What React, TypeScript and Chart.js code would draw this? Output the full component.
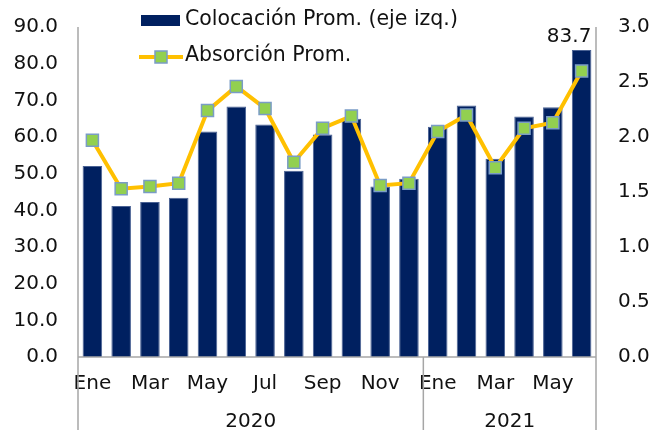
import React, { useEffect, useRef } from "react";
import { Chart, registerables } from "chart.js";

Chart.register(...registerables);

const months = ["Ene","Feb","Mar","Abr","May","Jun","Jul","Ago","Sep","Oct","Nov","Dic","Ene","Feb","Mar","Abr","May","Jun"];
const years = [
  { label: "2020", start: 0, count: 12 },
  { label: "2021", start: 12, count: 6 },
];
const colocacion = [52.1, 41.2, 42.3, 43.4, 61.5, 68.3, 63.4, 50.8, 60.7, 65.0, 46.5, 48.6, 62.8, 68.6, 54.1, 65.6, 68.1, 83.7];
const absorcion = [1.97, 1.53, 1.55, 1.58, 2.24, 2.46, 2.26, 1.77, 2.08, 2.19, 1.56, 1.58, 2.05, 2.20, 1.72, 2.08, 2.13, 2.60];
const leftTicks = { min: 0, max: 90, step: 10 };
const rightTicks = { min: 0, max: 3, step: 0.5 };
const legendLabels = ["Colocación Prom. (eje izq.)", "Absorción Prom."];

const NAVY = "#002060";
const GOLD = "#FFC000";
const GREEN = "#92D050";
const MARKER_BORDER = "#7A9CC6";
const AXIS = "#a6a6a6";
const TEXT = "#111111";
const FONT = "'DejaVu Sans', Verdana, sans-serif";
const FS = 20;
const LFS = 20.5;

const decorPlugin = {
  id: "decor",
  afterDraw(chart: any) {
    const ctx = chart.ctx;
    const area = chart.chartArea;
    const x = chart.scales.x;
    const H = chart.height;
    ctx.save();
    ctx.strokeStyle = AXIS;
    ctx.lineWidth = 1.5;
    ctx.beginPath();
    ctx.moveTo(area.left, area.top);
    ctx.lineTo(area.left, H);
    ctx.moveTo(area.right, area.top);
    ctx.lineTo(area.right, H);
    ctx.moveTo(area.left, area.bottom);
    ctx.lineTo(area.right, area.bottom);
    years.forEach((g, i) => {
      if (i === 0) return;
      const px = (x.getPixelForValue(g.start - 1) + x.getPixelForValue(g.start)) / 2;
      ctx.moveTo(px, area.bottom);
      ctx.lineTo(px, H);
    });
    ctx.stroke();
    ctx.fillStyle = TEXT;
    ctx.font = `${FS}px ${FONT}`;
    ctx.textAlign = "center";
    ctx.textBaseline = "middle";
    years.forEach((g, i) => {
      const l = i === 0 ? area.left : (x.getPixelForValue(g.start - 1) + x.getPixelForValue(g.start)) / 2;
      const last = g.start + g.count - 1;
      const r = i === years.length - 1 ? area.right : (x.getPixelForValue(last) + x.getPixelForValue(last + 1)) / 2;
      ctx.fillText(g.label, (l + r) / 2, 422);
    });
    const meta = chart.getDatasetMeta(0);
    const lastIdx = colocacion.length - 1;
    const el = meta.data[lastIdx];
    if (el) {
      ctx.textAlign = "right";
      ctx.textBaseline = "middle";
      ctx.fillText(colocacion[lastIdx].toFixed(1), el.x + el.width / 2, el.y - 13);
    }
    ctx.fillStyle = NAVY;
    ctx.fillRect(141, 15, 39, 11);
    ctx.strokeStyle = GOLD;
    ctx.lineWidth = 4;
    ctx.beginPath();
    ctx.moveTo(139, 57);
    ctx.lineTo(183, 57);
    ctx.stroke();
    ctx.fillStyle = GREEN;
    ctx.fillRect(155, 51, 12, 12);
    ctx.strokeStyle = MARKER_BORDER;
    ctx.lineWidth = 1.5;
    ctx.strokeRect(155, 51, 12, 12);
    ctx.fillStyle = TEXT;
    ctx.font = `${LFS}px ${FONT}`;
    ctx.textAlign = "left";
    ctx.textBaseline = "middle";
    ctx.fillText(legendLabels[0], 185, 20);
    ctx.fillText(legendLabels[1], 185, 56);
    ctx.restore();
  },
};

export default function App() {
  const ref = useRef<HTMLCanvasElement | null>(null);
  useEffect(() => {
    if (!ref.current) return;
    const chart = new Chart(ref.current, {
      type: "bar",
      data: {
        labels: months,
        datasets: [
          {
            type: "bar",
            label: legendLabels[0],
            data: colocacion,
            backgroundColor: NAVY,
            borderColor: "#4a6294",
            borderWidth: 1,
            yAxisID: "y",
            categoryPercentage: 1,
            barPercentage: 0.68,
            order: 2,
          },
          {
            type: "line",
            label: legendLabels[1],
            data: absorcion,
            borderColor: GOLD,
            borderWidth: 4,
            pointStyle: "rect",
            pointRadius: 8.5,
            pointBackgroundColor: GREEN,
            pointBorderColor: MARKER_BORDER,
            pointBorderWidth: 1.5,
            tension: 0,
            yAxisID: "y1",
            order: 1,
          } as any,
        ],
      },
      options: {
        responsive: false,
        animation: false,
        layout: { padding: { top: 27, left: 0, right: 0, bottom: 0 } },
        plugins: { legend: { display: false }, tooltip: { enabled: false } },
        scales: {
          x: {
            offset: true,
            grid: { display: false, drawTicks: false },
            border: { display: false },
            ticks: {
              autoSkip: false,
              maxRotation: 0,
              minRotation: 0,
              padding: 15,
              color: TEXT,
              font: { family: FONT, size: FS },
              callback: (_v: any, i: number) => (i % 2 === 0 ? months[i] : ""),
            },
            afterFit: (s: any) => { s.height = 73; },
          },
          y: {
            position: "left",
            min: leftTicks.min,
            max: leftTicks.max,
            grid: { display: false, drawTicks: false },
            border: { display: false },
            ticks: {
              stepSize: leftTicks.step,
              padding: 20,
              color: TEXT,
              font: { family: FONT, size: FS },
              callback: (v: any) => Number(v).toFixed(1),
            },
            afterFit: (s: any) => { s.width = 78; s.paddingTop = 0; s.paddingBottom = 0; },
          },
          y1: {
            position: "right",
            min: rightTicks.min,
            max: rightTicks.max,
            grid: { display: false, drawTicks: false },
            border: { display: false },
            ticks: {
              stepSize: rightTicks.step,
              padding: 22,
              color: TEXT,
              font: { family: FONT, size: FS },
              callback: (v: any) => Number(v).toFixed(1),
            },
            afterFit: (s: any) => { s.width = 56; s.paddingTop = 0; s.paddingBottom = 0; },
          },
        },
      },
      plugins: [decorPlugin],
    });
    return () => chart.destroy();
  }, []);
  return (
    <div style={{ position: "absolute", left: 0, top: 0, width: 652, height: 430, background: "#fff" }}>
      <canvas ref={ref} width={652} height={430} />
    </div>
  );
}
